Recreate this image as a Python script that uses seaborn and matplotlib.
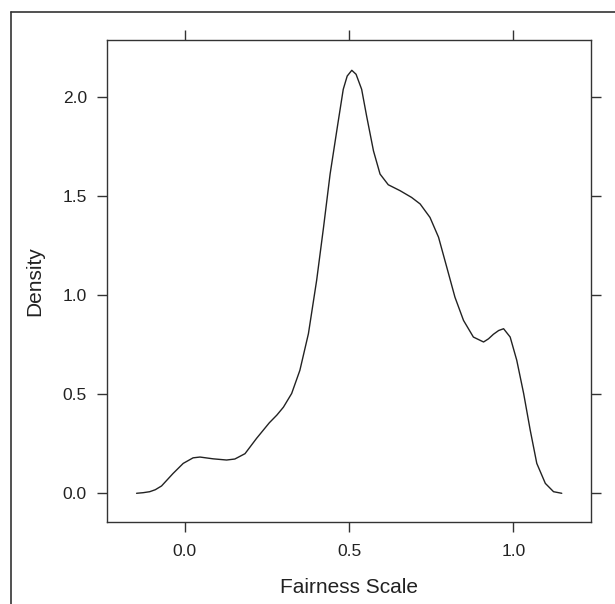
import pandas as pd
import matplotlib
matplotlib.use("Agg")
import matplotlib.pyplot as plt
from matplotlib.lines import Line2D
import seaborn as sns

# Кривая плотности
fairness = [-0.147, -0.127, -0.107, -0.090, -0.071, -0.036, -0.005, 0.025, 0.046,
            0.086, 0.127, 0.152, 0.183, 0.218, 0.257, 0.280, 0.300, 0.325, 0.350,
            0.376, 0.401, 0.422, 0.442, 0.465, 0.482, 0.494, 0.508, 0.521, 0.538,
            0.553, 0.574, 0.594, 0.619, 0.655, 0.690, 0.716, 0.746, 0.772, 0.797,
            0.822, 0.848, 0.878, 0.909, 0.924, 0.939, 0.955, 0.970, 0.990, 1.010,
            1.031, 1.051, 1.071, 1.097, 1.122, 1.147]
density = [0.000, 0.003, 0.008, 0.018, 0.037, 0.100, 0.151, 0.179, 0.183,
           0.174, 0.168, 0.173, 0.200, 0.277, 0.356, 0.395, 0.435, 0.504, 0.621,
           0.806, 1.075, 1.343, 1.612, 1.860, 2.040, 2.107, 2.136, 2.116, 2.040,
           1.906, 1.729, 1.612, 1.558, 1.528, 1.494, 1.461, 1.393, 1.293, 1.142,
           0.990, 0.873, 0.789, 0.764, 0.780, 0.803, 0.822, 0.831, 0.789, 0.672,
           0.504, 0.319, 0.151, 0.050, 0.008, 0.000]
x_ticks = [0.0, 0.5, 1.0]
y_ticks = [0.0, 0.5, 1.0, 1.5, 2.0]

df = pd.DataFrame({"Fairness Scale": fairness, "Density": density})

sns.set_theme(style="white")
plt.rcParams["font.family"] = ["Liberation Sans", "DejaVu Sans"]

W, H = 615, 604
fig = plt.figure(figsize=(W / 100, H / 100), dpi=100)
ax = fig.add_axes([107 / W, 1 - 522 / H, (591 - 107) / W, (522 - 40) / H])

sns.lineplot(data=df, x="Fairness Scale", y="Density", sort=False,
             color="#222222", linewidth=1.0, ax=ax)

ax.set_xlim(-0.237, 1.236)
ax.set_ylim(-0.145, 2.289)
ax.set_xticks(x_ticks)
ax.set_yticks(y_ticks)
ax.set_xticklabels([f"{v:.1f}" for v in x_ticks])
ax.set_yticklabels([f"{v:.1f}" for v in y_ticks])

edge = "#333333"
for s in ax.spines.values():
    s.set_color(edge)
    s.set_linewidth(1.0)
    s.set_visible(True)

ax.tick_params(axis="both", which="major", direction="out", length=7.5,
               width=1.0, color=edge, labelsize=12.5, labelcolor="#222222",
               top=True, right=True, bottom=True, left=True,
               labeltop=False, labelright=False)
ax.tick_params(axis="x", pad=8)
ax.tick_params(axis="y", pad=7)

ax.set_xlabel("Fairness Scale", fontsize=15, color="#222222", labelpad=14)
ax.set_ylabel("Density", fontsize=15, color="#222222", labelpad=13)
ax.grid(False)

# рамка вокруг рисунка (видны верх и левый край)
fig.add_artist(Line2D([11 / W, 1], [1 - 11.5 / H, 1 - 11.5 / H],
                      transform=fig.transFigure, color=edge, linewidth=1.2))
fig.add_artist(Line2D([11 / W, 11 / W], [0, 1 - 11.5 / H],
                      transform=fig.transFigure, color=edge, linewidth=1.2))

fig.savefig("out.png", dpi=100, facecolor="white")
